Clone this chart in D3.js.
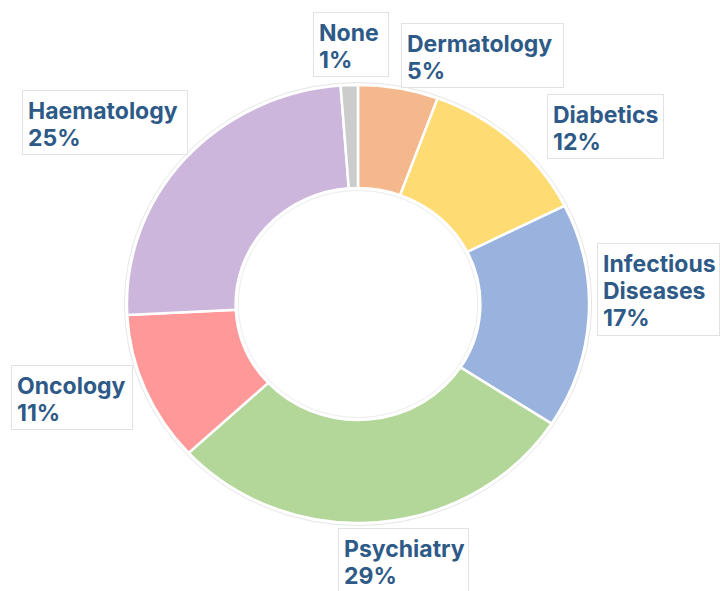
<!DOCTYPE html>
<html>
<head>
<meta charset="utf-8">
<script src="https://cdn.jsdelivr.net/npm/d3@7"></script>
<style>
  html, body { margin: 0; padding: 0; background: #fff; }
  svg { display: block; }
  text { font-family: Inter, "Open Sans", sans-serif; font-weight: 700; }
</style>
</head>
<body>
<svg id="chart" width="720" height="591"></svg>
<script>
// ---- data ----
const categories = ["Dermatology", "Diabetics", "Infectious Diseases", "Psychiatry", "Oncology", "Haematology", "None"];
const values = [5.6, 12.0, 16.6, 28.9, 11.1, 24.6, 1.2];
const percentLabels = ["5%", "12%", "17%", "29%", "11%", "25%", "1%"];
const labelLines = [["Dermatology"], ["Diabetics"], ["Infectious", "Diseases"], ["Psychiatry"], ["Oncology"], ["Haematology"], ["None"]];
const colors = ["#F5B88C", "#FFDB73", "#99B3DE", "#B3D699", "#FF9999", "#CDB6DC", "#CCCCCC"];

// ---- layout (label box positions: left, top, width) ----
const labelBoxes = [
  [401, 23, 162],
  [547, 94, 116],
  [597, 243, 122],
  [338, 528, 130],
  [11, 365, 121],
  [22, 90, 165],
  [313, 12, 75]
];

const svg = d3.select("#chart");
const cx = 358, cy = 304, outerR = 219, innerR = 116, stretchX = 1.055;

const pie = d3.pie().sort(null).value(d => d.value);
const arc = d3.arc().innerRadius(innerR).outerRadius(outerR);
const data = categories.map((c, i) => ({ cat: c, value: values[i], color: colors[i] }));

const g = svg.append("g").attr("transform", `translate(${cx},${cy}) scale(${stretchX},1)`);

// faint outlines
g.append("circle").attr("r", outerR + 2.5).attr("fill", "none")
  .attr("stroke", "#e6e6e6").attr("stroke-width", 1).attr("vector-effect", "non-scaling-stroke");
g.append("circle").attr("r", innerR - 2.5).attr("fill", "none")
  .attr("stroke", "#ececec").attr("stroke-width", 1).attr("vector-effect", "non-scaling-stroke");

g.selectAll("path.slice").data(pie(data)).join("path")
  .attr("class", "slice")
  .attr("d", arc)
  .attr("fill", d => d.data.color)
  .attr("stroke", "#fff")
  .attr("stroke-width", 2.5)
  .attr("vector-effect", "non-scaling-stroke");

// labels
const lineH = 27, boxLineH = 28;
const labels = svg.append("g");
categories.forEach((c, i) => {
  const [bx, by, bw] = labelBoxes[i];
  const lines = labelLines[i].concat([percentLabels[i]]);
  const bh = 8 + lines.length * boxLineH;
  const lg = labels.append("g").attr("transform", `translate(${bx},${by})`);
  lg.append("rect").attr("x", 0.5).attr("y", 0.5).attr("width", bw).attr("height", bh)
    .attr("fill", "#fff").attr("stroke", "#e2e2e2").attr("stroke-width", 1);
  lg.selectAll("text").data(lines).join("text")
    .attr("x", 6)
    .attr("y", (d, j) => 29 + j * lineH)
    .attr("fill", "#2E5A88")
    .attr("font-size", 23)
    .text(d => d);
});
</script>
</body>
</html>
